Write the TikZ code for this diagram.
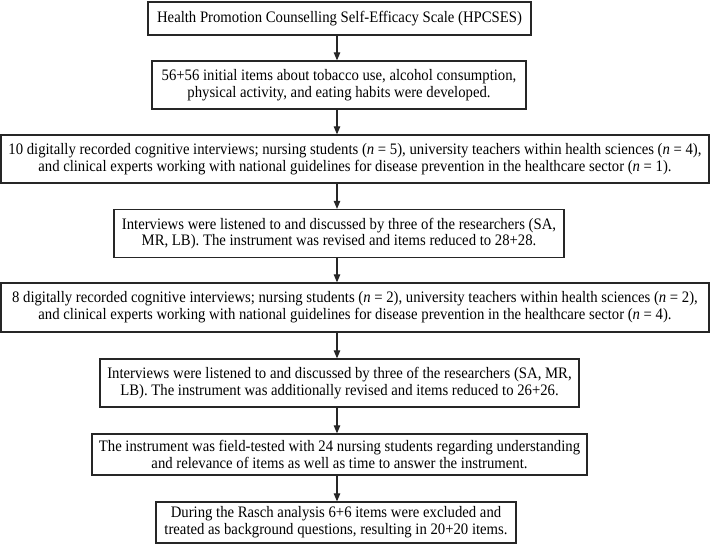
\documentclass[tikz,border=0pt]{standalone}
\usepackage{fontspec}
\setmainfont{Liberation Serif}[FakeStretch=0.92]
\usetikzlibrary{arrows.meta,calc}
\begin{document}
\begin{tikzpicture}[x=1pt,y=-1pt,
  stepbox/.style={draw=black!85,line width=1.3pt,align=center,inner sep=0pt,
    font=\fontsize{16}{16.8}\selectfont,anchor=center},
  arr/.style={line width=1.1pt,draw=black!85,-{Triangle[length=8pt,width=6.5pt]}}]
\useasboundingbox (0,0) rectangle (710,545);
\fill[white] (0,0) rectangle (710,545);
\node[stepbox,minimum width=383pt,minimum height=33pt] (b1) at (339.5,18.5)
  {Health Promotion Counselling Self-Efficacy Scale (HPCSES)};
\node[stepbox,minimum width=374pt,minimum height=48pt] (b2) at (339,85)
  {56+56 initial items about tobacco use, alcohol consumption,\\physical activity, and eating habits were developed.};
\node[stepbox,minimum width=708pt,minimum height=48pt] (b3) at (355,159)
  {10 digitally recorded cognitive interviews; nursing students (\textit{n} = 5), university teachers within health sciences (\textit{n} = 4),\\and clinical experts working with national guidelines for disease prevention in the healthcare sector (\textit{n} = 1).};
\node[stepbox,minimum width=450pt,minimum height=48pt] (b4) at (339,233.5)
  {Interviews were listened to and discussed by three of the researchers (SA,\\MR, LB). The instrument was revised and items reduced to 28+28.};
\node[stepbox,minimum width=708pt,minimum height=49pt] (b5) at (355,307.5)
  {8 digitally recorded cognitive interviews; nursing students (\textit{n} = 2), university teachers within health sciences (\textit{n} = 2),\\and clinical experts working with national guidelines for disease prevention in the healthcare sector (\textit{n} = 4).};
\node[stepbox,minimum width=479pt,minimum height=48pt] (b6) at (339.5,383)
  {Interviews were listened to and discussed by three of the researchers (SA, MR,\\LB). The instrument was additionally revised and items reduced to 26+26.};
\node[stepbox,minimum width=495pt,minimum height=41pt] (b7) at (339.5,454.5)
  {The instrument was field-tested with 24 nursing students regarding understanding\\and relevance of items as well as time to answer the instrument.};
\node[stepbox,minimum width=360pt,minimum height=41pt] (b8) at (336,522.5)
  {During the Rasch analysis 6+6 items were excluded and\\treated as background questions, resulting in 20+20 items.};
\coordinate (ax) at (337,0);
\draw[arr] (b1.south -| ax) -- (b2.north -| ax);
\draw[arr] (b2.south -| ax) -- (b3.north -| ax);
\draw[arr] (b3.south -| ax) -- (b4.north -| ax);
\draw[arr] (b4.south -| ax) -- (b5.north -| ax);
\draw[arr] (b5.south -| ax) -- (b6.north -| ax);
\draw[arr] (b6.south -| ax) -- (b7.north -| ax);
\draw[arr] (b7.south -| ax) -- (b8.north -| ax);
\end{tikzpicture}
\end{document}
